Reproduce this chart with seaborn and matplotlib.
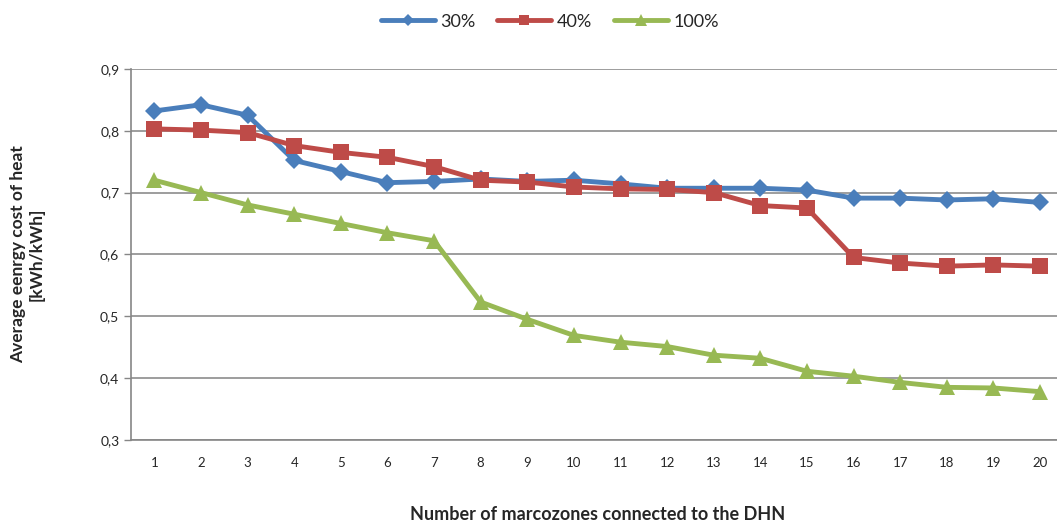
import pandas as pd
import numpy as np
import matplotlib.pyplot as plt
import seaborn as sns

zones = list(range(1, 21))
cost_30 = [0.832, 0.842, 0.825, 0.752, 0.734, 0.716, 0.718, 0.722, 0.718, 0.720,
           0.714, 0.707, 0.707, 0.707, 0.704, 0.691, 0.691, 0.688, 0.690, 0.684]
cost_40 = [0.803, 0.801, 0.797, 0.776, 0.765, 0.757, 0.742, 0.720, 0.717, 0.709,
           0.706, 0.705, 0.700, 0.679, 0.675, 0.595, 0.586, 0.581, 0.583, 0.581]
cost_100 = [0.720, 0.700, 0.680, 0.665, 0.650, 0.635, 0.622, 0.523, 0.495, 0.469,
            0.458, 0.451, 0.437, 0.432, 0.411, 0.403, 0.393, 0.385, 0.384, 0.378]
series = ['30%', '40%', '100%']

datos = pd.DataFrame({
    'zona': zones * 3,
    'coste': cost_30 + cost_40 + cost_100,
    'serie': [s for s in series for _ in zones],
})

sns.set_style('white')
plt.rcParams['font.family'] = ['Lato', 'DejaVu Sans']

colores = {'30%': '#4A7EBB', '40%': '#BE4B48', '100%': '#98B954'}
marcadores = {'30%': 'D', '40%': 's', '100%': '^'}
tamanos = {'30%': 9, '40%': 11, '100%': 12}

fig = plt.figure(figsize=(10.57, 5.30), dpi=100)
ax = fig.add_axes([0.124, 0.170, 0.882, 0.700])

for s in series:
    sub = datos[datos['serie'] == s]
    sns.lineplot(data=sub, x='zona', y='coste', ax=ax, color=colores[s],
                 marker=marcadores[s], markersize=tamanos[s], linewidth=3.5,
                 markeredgewidth=0, label=s)

ax.set_xlim(0.5, 20.5)
ax.set_ylim(0.3, 0.9)
ax.set_yticks(np.arange(0.3, 0.91, 0.1))
ax.set_yticklabels([f'{v:.1f}'.replace('.', ',') for v in np.arange(0.3, 0.91, 0.1)])
ax.set_xticks(zones)
ax.set_xticks(np.arange(0.5, 20.6, 1), minor=True)
ax.tick_params(axis='x', which='major', length=0, pad=12, labelsize=9.5)
ax.tick_params(axis='x', which='minor', length=5, color='#868686', width=1)
ax.tick_params(axis='y', length=5, color='#868686', width=1, labelsize=10, direction='out')
ax.tick_params(axis='y', left=True)
ax.grid(axis='y', color='#8c8c8c', linewidth=1.2)
ax.set_axisbelow(True)
for lado in ['top', 'right']:
    ax.spines[lado].set_visible(False)
for lado in ['left', 'bottom']:
    ax.spines[lado].set_color('#868686')
    ax.spines[lado].set_linewidth(1.2)

ax.set_xlabel('Number of marcozones connected to the DHN', fontsize=13,
              fontweight='bold', labelpad=27)
ax.set_ylabel('Average eenrgy cost of heat\n[kWh/kWh]', fontsize=12.5,
              fontweight='bold', labelpad=40)

ax.legend(loc='center', bbox_to_anchor=(0.449, 1.127), ncol=3, frameon=False,
          fontsize=13, handlelength=3.0, columnspacing=1.2, handletextpad=0.3,
          markerscale=0.7)

plt.savefig('out.png', dpi=100)
